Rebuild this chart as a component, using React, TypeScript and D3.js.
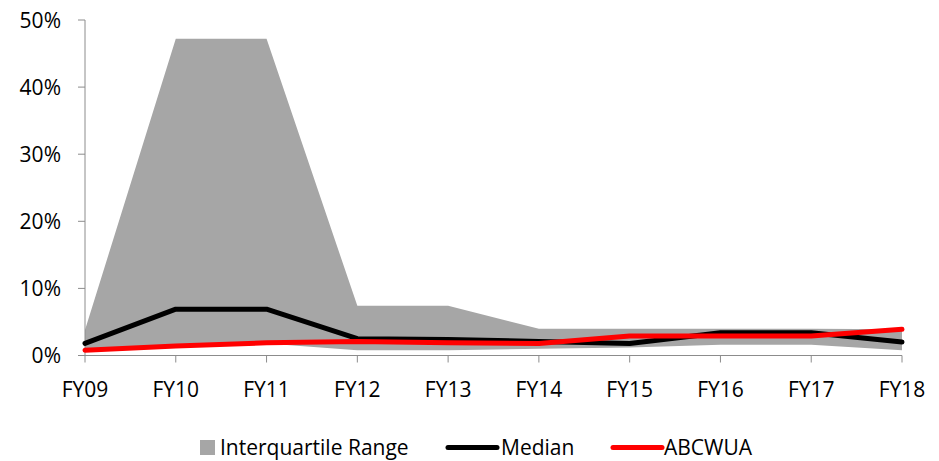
import React from "react";
import * as d3 from "d3";

const years = ["FY09", "FY10", "FY11", "FY12", "FY13", "FY14", "FY15", "FY16", "FY17", "FY18"];
const iqrLow = [1.0, 1.3, 1.8, 0.8, 0.8, 1.0, 1.2, 1.6, 1.6, 0.8];
const iqrHigh = [3.8, 47.2, 47.2, 7.4, 7.4, 4.0, 4.0, 4.0, 4.0, 3.9];
const median = [1.8, 6.9, 6.9, 2.5, 2.4, 2.1, 1.8, 3.4, 3.4, 2.0];
const abcwua = [0.8, 1.4, 1.9, 2.1, 1.9, 1.8, 2.9, 2.9, 2.9, 3.9];
const yTicks = [0, 10, 20, 30, 40, 50];

const W = 939;
const H = 461;
const font = "'Open Sans', sans-serif";
const fs = 21;
const axisColor = "#8c8c8c";

const App: React.FC = () => {
  const x = d3.scalePoint<string>().domain(years).range([85, 902]);
  const y = d3.scaleLinear().domain([0, 50]).range([355.5, 20]);

  const area = d3
    .area<number>()
    .x((_, i) => x(years[i])!)
    .y0((_, i) => y(iqrLow[i]))
    .y1((d) => y(d));

  const line = d3
    .line<number>()
    .x((_, i) => x(years[i])!)
    .y((d) => y(d));

  return (
    <svg width={W} height={H} style={{ position: "absolute", left: 0, top: 0 }}>
      <path d={area(iqrHigh)!} fill="#a6a6a6" />

      {/* y axis */}
      <line x1={85} x2={85} y1={y(50)} y2={y(0)} stroke={axisColor} strokeWidth={1} />
      {yTicks.map((t) => (
        <g key={t}>
          <line x1={78} x2={85} y1={y(t)} y2={y(t)} stroke={axisColor} />
          <text x={61} y={y(t) + 7.5} textAnchor="end" fontFamily={font} fontSize={fs} fill="#000">
            {t}%
          </text>
        </g>
      ))}

      {/* x axis */}
      <line x1={85} x2={902} y1={y(0)} y2={y(0)} stroke={axisColor} />
      {years.map((yr) => (
        <g key={yr}>
          <line x1={x(yr)!} x2={x(yr)!} y1={y(0)} y2={y(0) + 7} stroke={axisColor} />
          <text x={x(yr)!} y={397} textAnchor="middle" fontFamily={font} fontSize={fs} fill="#000">
            {yr}
          </text>
        </g>
      ))}

      <path d={line(median)!} fill="none" stroke="#000" strokeWidth={5} strokeLinejoin="round" strokeLinecap="round" />
      <path d={line(abcwua)!} fill="none" stroke="#ff0000" strokeWidth={5} strokeLinejoin="round" strokeLinecap="round" />

      {/* legend */}
      <rect x={200} y={440} width={15} height={15} fill="#a6a6a6" />
      <text x={220} y={455} fontFamily={font} fontSize={fs}>Interquartile Range</text>
      <line x1={448} x2={497} y1={447.5} y2={447.5} stroke="#000" strokeWidth={5} strokeLinecap="round" />
      <text x={501} y={455} fontFamily={font} fontSize={fs}>Median</text>
      <line x1={613} x2={662} y1={447.5} y2={447.5} stroke="#ff0000" strokeWidth={5} strokeLinecap="round" />
      <text x={664} y={455} fontFamily={font} fontSize={fs}>ABCWUA</text>
    </svg>
  );
};

export default App;
